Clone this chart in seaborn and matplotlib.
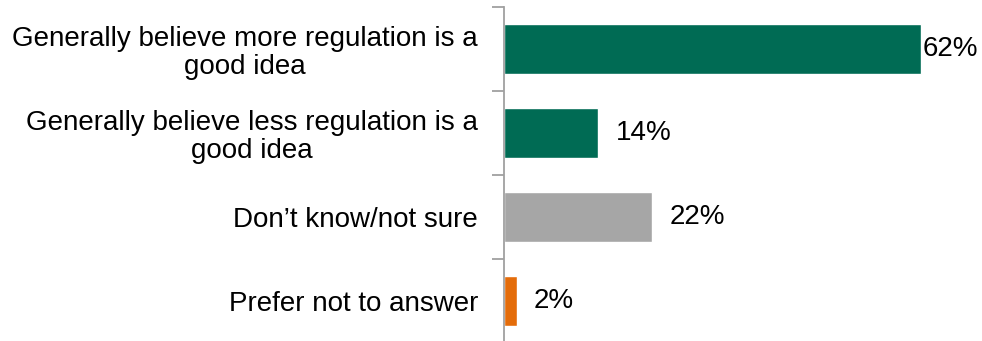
import matplotlib
matplotlib.use("Agg")
import matplotlib.pyplot as plt
import seaborn as sns
import pandas as pd

categories = [
    "Generally believe more regulation is a\ngood idea",
    "Generally believe less regulation is a\ngood idea",
    "Don\u2019t know/not sure",
    "Prefer not to answer",
]
values = [62, 14, 22, 2]
colors = ["#006B54", "#006B54", "#A6A6A6", "#E46C0A"]
value_labels = ["62%", "14%", "22%", "2%"]

df = pd.DataFrame({"category": categories, "value": values})

sns.set_theme(style="white")
plt.rcParams["font.family"] = ["Liberation Sans", "DejaVu Sans"]

fig = plt.figure(figsize=(9.82, 3.41), dpi=100)
ax = fig.add_axes([504 / 982, -2 / 341, 471 / 982, 336 / 341])

sns.barplot(data=df, x="value", y="category", hue="category", palette=colors,
            legend=False, orient="h", width=0.6, saturation=1, ax=ax)

ax.set_xlim(0, 70)
ax.set_xlabel("")
ax.set_ylabel("")
ax.set_xticks([])

# category boundary ticks on the value axis line
ax.set_yticks([-0.5, 0.5, 1.5, 2.5, 3.5], minor=False)
ax.set_yticklabels([])
ax.set_yticks(range(len(categories)), minor=True)
ax.set_yticklabels(categories, minor=True, fontsize=20, color="black",
                   multialignment="center", linespacing=1.1)
ax.tick_params(axis="y", which="major", length=9, width=1.3, color="#A0A0A0",
               left=True, direction="out")
ax.tick_params(axis="y", which="minor", length=0, pad=18.7)
ax.set_ylim(3.5, -0.5)

for side in ["top", "right", "bottom"]:
    ax.spines[side].set_visible(False)
ax.spines["left"].set_color("#A0A0A0")
ax.spines["left"].set_linewidth(1.3)

offsets = [1, 13, 13, 12]
for i, (v, lab) in enumerate(zip(values, value_labels)):
    ax.annotate(lab, xy=(v, i), xytext=(offsets[i], 0), textcoords="offset points",
                va="center", ha="left", fontsize=20, color="black")

fig.savefig("out.png", dpi=100)
